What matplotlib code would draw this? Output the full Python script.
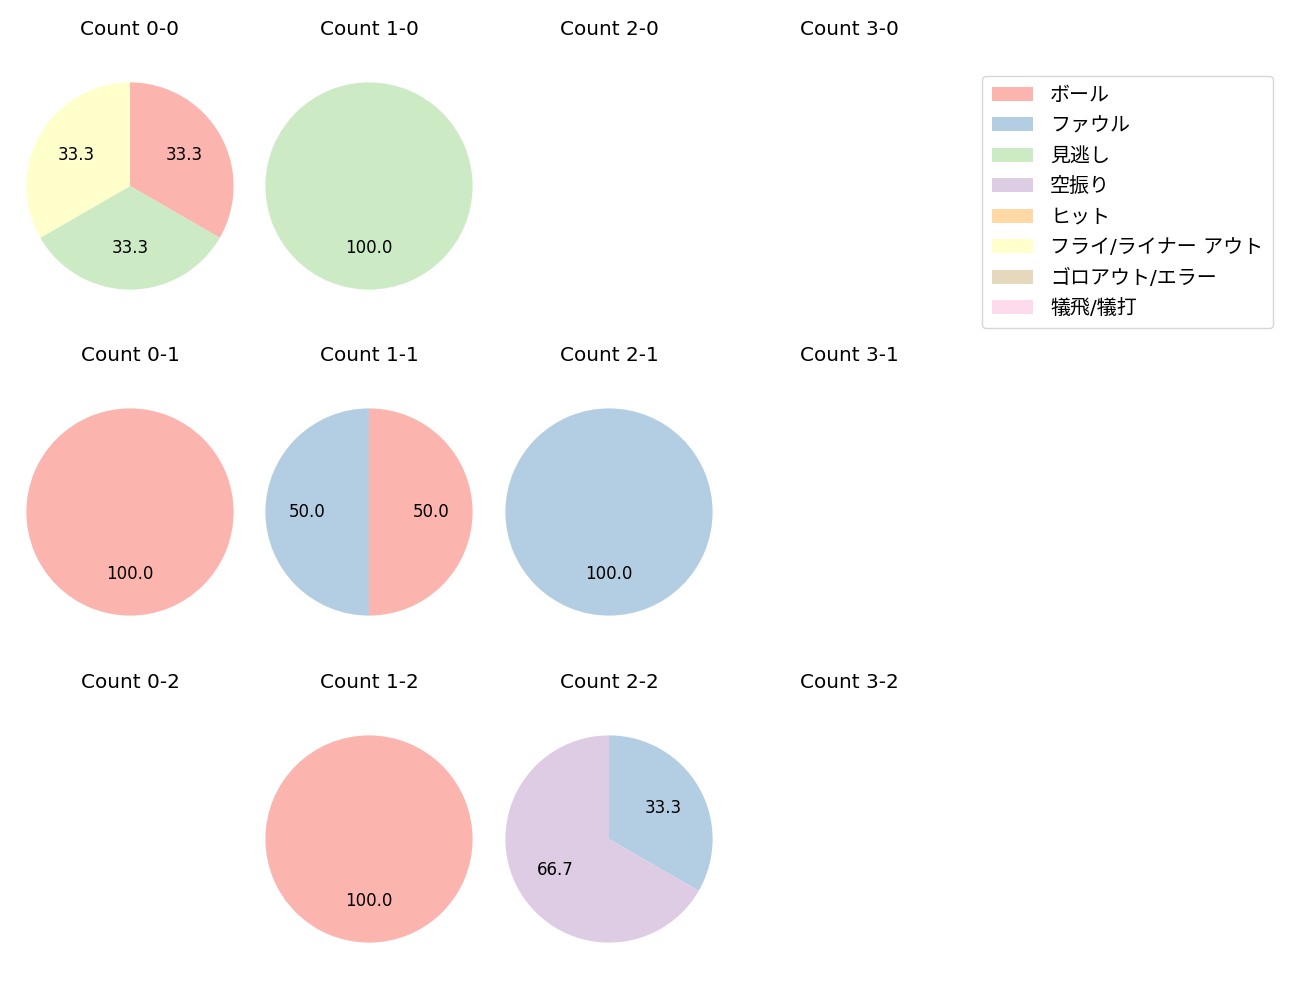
import matplotlib
matplotlib.use("Agg")
import matplotlib.pyplot as plt
from matplotlib.patches import Patch

plt.rcParams['font.family'] = ['DejaVu Sans', 'Noto Sans CJK JP']

categories = ['ボール', 'ファウル', '見逃し', '空振り', 'ヒット',
              'フライ/ライナー アウト', 'ゴロアウト/エラー', '犠飛/犠打']
colors = ['#fbb4ae', '#b3cde3', '#ccebc5', '#decbe4', '#fed9a6',
          '#ffffcc', '#e5d8bd', '#fddaec']

balls = [0, 1, 2, 3]
strikes = [0, 1, 2]

# counts per category for each count (balls-strikes)
count_0_0 = [1, 0, 1, 0, 0, 1, 0, 0]
count_1_0 = [0, 0, 1, 0, 0, 0, 0, 0]
count_2_0 = [0, 0, 0, 0, 0, 0, 0, 0]
count_3_0 = [0, 0, 0, 0, 0, 0, 0, 0]
count_0_1 = [1, 0, 0, 0, 0, 0, 0, 0]
count_1_1 = [1, 1, 0, 0, 0, 0, 0, 0]
count_2_1 = [0, 1, 0, 0, 0, 0, 0, 0]
count_3_1 = [0, 0, 0, 0, 0, 0, 0, 0]
count_0_2 = [0, 0, 0, 0, 0, 0, 0, 0]
count_1_2 = [1, 0, 0, 0, 0, 0, 0, 0]
count_2_2 = [0, 1, 0, 2, 0, 0, 0, 0]
count_3_2 = [0, 0, 0, 0, 0, 0, 0, 0]

data = {
    (0, 0): count_0_0, (1, 0): count_1_0, (2, 0): count_2_0, (3, 0): count_3_0,
    (0, 1): count_0_1, (1, 1): count_1_1, (2, 1): count_2_1, (3, 1): count_3_1,
    (0, 2): count_0_2, (1, 2): count_1_2, (2, 2): count_2_2, (3, 2): count_3_2,
}

fig = plt.figure(figsize=(13, 10), dpi=100)
W, H = 1300, 1000
col_cx = [130, 369, 609, 849]
row_cy = [186, 512, 839]
box = 259

for s in strikes:
    for b in balls:
        cx, cy = col_cx[b], row_cy[s]
        ax = fig.add_axes([(cx - box / 2) / W, 1 - (cy + box / 2) / H, box / W, box / H])
        vals = data[(b, s)]
        nz = [(v, c) for v, c in zip(vals, colors) if v > 0]
        if nz:
            ax.pie([v for v, _ in nz], colors=[c for _, c in nz],
                   startangle=90, counterclock=False, autopct='%1.1f',
                   textprops={'fontsize': 12})
        ax.set_aspect('equal')
        ax.set_xlim(-1.25, 1.25)
        ax.set_ylim(-1.25, 1.25)
        ax.axis('off')
        ax.set_title(f'Count {b}-{s}', fontsize=14.4, pad=15.5)

handles = [Patch(facecolor=c, label=l) for c, l in zip(colors, categories)]
fig.legend(handles=handles, loc='upper left', bbox_to_anchor=(972 / W, 1 - 66 / H),
           fontsize=14.4, frameon=True, labelspacing=0.57, handletextpad=0.85,
           borderpad=0.5, handlelength=2.05)

fig.savefig('out.png', dpi=100)
